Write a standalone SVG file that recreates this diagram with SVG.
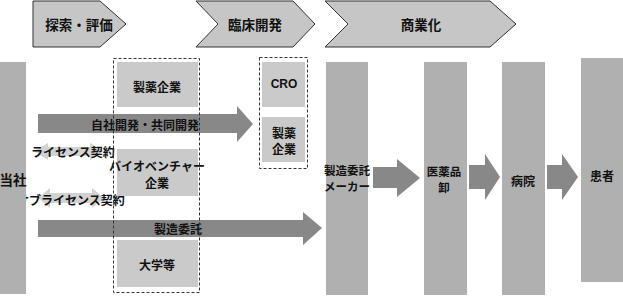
<svg xmlns="http://www.w3.org/2000/svg" width="623" height="296" viewBox="0 0 623 296">
<style>
text{font-family:"Noto Sans CJK JP","Noto Sans",sans-serif;font-weight:bold;fill:#111;text-anchor:middle;dominant-baseline:central}
.hd{font-size:13.5px}
.t{font-size:12px}
.s{font-size:11.5px}
.chev{fill:#c6c6c6;stroke:#333;stroke-width:1}
.bar{fill:#b0b0b0}
.box{fill:#cacaca}
.dash{fill:none;stroke:#333;stroke-width:1;stroke-dasharray:3,2}
.dark{fill:#888}
.light{fill:#d2d2d2}
</style>
<rect width="623" height="296" fill="#fff"/>
<g id="phase1"><polygon class="chev" points="33,1 100,1 126,24 100,47 33,47"/><text class="hd" x="79" y="24">探索・評価</text></g>
<g id="phase2"><polygon class="chev" points="196,1 293,1 315,24 293,47 196,47 218,24"/><text class="hd" x="255" y="24">臨床開発</text></g>
<g id="phase3"><polygon class="chev" points="325,1 490,1 516,24 490,47 325,47 348,24"/><text class="hd" x="421" y="24">商業化</text></g>

<g id="connectors">
<polygon class="dark" points="38,114 237,114 237,106 253,124 237,142 237,133 38,133"/>
<polygon class="light" points="34,151 48,143 48,147 90,147 90,143 104,151 90,160 90,156 48,156 48,160"/>
<polygon class="light" points="38,198 50,188 50,193 92,193 92,188 104,198 92,208 92,203 50,203 50,208"/>
<polygon class="dark" points="38,220 303,220 303,212 322,228 303,245 303,237 38,237"/>
<polygon class="dark" points="373,167 397,167 397,159 420,178 397,197 397,188 373,188"/>
<polygon class="dark" points="469,165 485,165 485,154 500,177 485,200 485,189 469,189"/>
<polygon class="dark" points="547,165 562,165 562,154 578,177 562,200 562,189 547,189"/>
<text class="t" x="145" y="124">自社開発・共同開発</text>
<text class="t" x="73" y="151">ライセンス契約</text>
<text class="t" x="71" y="199">サブライセンス契約</text>
<text class="t" x="178" y="228">製造委託</text>
</g>

<g id="tosha"><rect class="bar" x="0" y="62" width="26" height="232"/><text class="hd" x="13" y="179">当社</text></g>

<g id="group1"><rect class="dash" x="113.5" y="58.5" width="86" height="234"/></g>
<g id="seiyaku1"><rect class="box" x="117" y="62" width="81" height="45"/><text class="t" x="157" y="86">製薬企業</text></g>
<g id="bio"><rect class="box" x="117" y="149" width="81" height="47"/><text class="t" x="157" y="165">バイオベンチャー</text><text class="t" x="157" y="182">企業</text></g>
<g id="univ"><rect class="box" x="117" y="240" width="81" height="47"/><text class="t" x="157" y="264">大学等</text></g>

<g id="group2"><rect class="dash" x="259.5" y="57.5" width="48" height="111"/></g>
<g id="cro"><rect class="box" x="262" y="62" width="43" height="45"/><text class="t" x="284" y="84" style="font-family:'Liberation Sans',sans-serif">CRO</text></g>
<g id="seiyaku2"><rect class="box" x="262" y="117" width="43" height="45"/><text class="t" x="284" y="132">製薬</text><text class="t" x="284" y="148">企業</text></g>

<g id="maker"><rect class="bar" x="326" y="62" width="42" height="233"/><text class="s" x="347" y="170">製造委託</text><text class="s" x="347" y="186">メーカー</text></g>
<g id="oroshi"><rect class="bar" x="424" y="62" width="43" height="233"/><text class="s" x="444" y="171">医薬品</text><text class="s" x="444" y="187">卸</text></g>
<g id="hospital"><rect class="bar" x="502" y="62" width="43" height="233"/><text class="t" x="523" y="180">病院</text></g>
<g id="patient"><rect class="bar" x="581" y="58" width="42" height="224"/><text class="t" x="602" y="175">患者</text></g>
</svg>
